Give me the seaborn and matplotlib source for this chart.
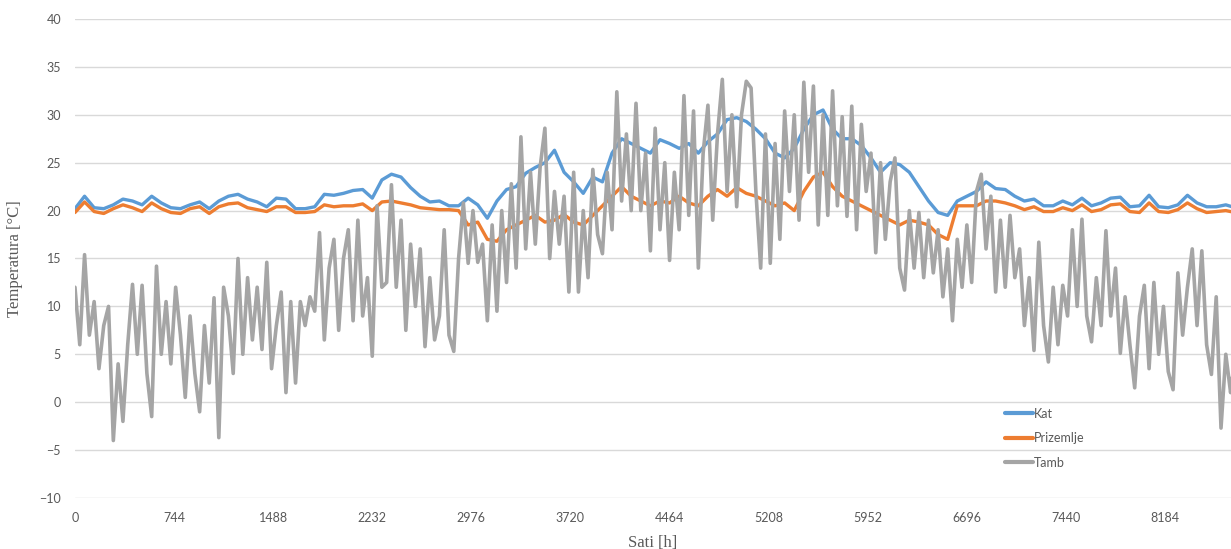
import numpy as np
import pandas as pd
import matplotlib
matplotlib.use("Agg")
import matplotlib.pyplot as plt
import seaborn as sns

# ─── Data ────────────────────────────────────────────────────────────────────

# outdoor temperature, one value every 36 h (alternating daily highs / lows)
TAMB_STEP = 36
tamb = [
    12.0, 6.0, 15.4, 7.0, 10.5, 3.5, 8.0, 10.0, -4.0, 4.0, -2.0, 6.0,
    12.3, 5.0, 12.2, 3.0, -1.5, 14.2, 5.0, 10.5, 4.0, 12.0, 7.0, 0.5,
    9.0, 3.0, -1.0, 8.0, 2.0, 10.9, -3.7, 12.0, 9.0, 3.0, 15.0, 5.0,
    13.0, 6.5, 12.0, 5.5, 14.6, 3.5, 8.0, 11.5, 1.0, 10.5, 2.0, 10.5,
    8.0, 11.0, 9.5, 17.7, 6.5, 14.0, 17.0, 7.5, 15.0, 18.0, 8.5, 19.0,
    9.0, 13.0, 4.8, 20.5, 12.0, 12.5, 22.7, 12.0, 19.0, 7.5, 16.5, 10.0,
    16.0, 5.8, 13.0, 6.5, 9.0, 18.0, 7.0, 5.3, 15.0, 20.8, 14.5, 20.0,
    14.6, 16.5, 8.5, 18.5, 9.5, 20.0, 12.5, 22.8, 14.0, 27.7, 16.0, 24.0,
    16.5, 24.5, 28.6, 15.0, 22.0, 16.5, 21.5, 11.5, 24.0, 11.5, 20.0, 13.0,
    24.3, 17.5, 15.5, 24.0, 18.0, 32.4, 21.0, 28.0, 20.0, 31.2, 20.0, 26.0,
    15.8, 28.6, 18.0, 25.0, 14.8, 24.0, 18.0, 32.0, 19.5, 30.4, 14.0, 26.0,
    31.0, 19.0, 28.0, 33.7, 22.0, 30.0, 20.4, 30.0, 33.5, 32.8, 22.0, 14.0,
    28.0, 14.5, 27.0, 17.0, 30.4, 22.0, 30.0, 19.0, 33.4, 24.0, 33.0, 18.5,
    30.0, 19.5, 32.5, 20.5, 29.8, 19.4, 30.9, 18.0, 29.0, 22.0, 26.0, 15.6,
    25.0, 17.0, 23.0, 25.5, 14.0, 11.7, 20.0, 14.0, 19.8, 13.0, 19.0, 13.5,
    18.0, 11.0, 16.0, 8.5, 17.0, 12.0, 18.5, 12.5, 22.0, 23.8, 16.0, 21.5,
    11.5, 19.0, 12.0, 19.5, 13.0, 16.0, 8.0, 13.0, 5.4, 16.7, 8.0, 4.2,
    12.0, 6.0, 12.2, 9.0, 18.0, 10.0, 19.1, 9.0, 6.3, 13.0, 8.0, 17.9,
    9.0, 14.0, 5.1, 11.0, 6.0, 1.5, 9.0, 12.2, 3.5, 12.5, 5.0, 10.0,
    3.2, 1.3, 13.5, 7.0, 12.0, 16.0, 8.0, 15.8, 6.0, 2.9, 11.0, -2.7,
    5.0, 1.0, 6.3, 4.0,
]

# indoor temperatures, one value every 72 h
ROOM_STEP = 72
kat = [
    20.2, 21.5, 20.3, 20.2, 20.6, 21.2, 21.0, 20.6, 21.5, 20.8, 20.3, 20.2,
    20.6, 20.9, 20.2, 21.0, 21.5, 21.7, 21.2, 20.9, 20.4, 21.3, 21.2, 20.2,
    20.2, 20.4, 21.7, 21.6, 21.8, 22.1, 22.2, 21.3, 23.2, 23.8, 23.5, 22.4,
    21.5, 20.9, 21.0, 20.5, 20.5, 21.3, 20.6, 19.2, 21.0, 22.2, 22.5, 23.9,
    24.5, 25.0, 26.3, 24.0, 23.0, 21.8, 23.5, 23.0, 26.0, 27.5, 27.0, 26.5,
    26.0, 27.4, 27.0, 26.5, 27.0, 26.0, 27.2, 28.0, 29.5, 29.7, 29.3, 28.5,
    27.5, 26.0, 25.5, 26.5, 28.5, 30.0, 30.5, 28.5, 27.5, 27.5, 26.8, 25.5,
    24.0, 25.0, 24.8, 24.0, 22.5, 21.0, 19.8, 19.5, 21.0, 21.5, 22.0, 23.0,
    22.3, 22.2, 21.5, 21.0, 21.2, 20.5, 20.5, 21.0, 20.6, 21.3, 20.5, 20.8,
    21.3, 21.4, 20.4, 20.5, 21.6, 20.4, 20.3, 20.6, 21.6, 20.8, 20.4, 20.4,
    20.6, 20.3,
]
prizemlje = [
    19.8, 20.9, 19.9, 19.7, 20.2, 20.6, 20.3, 19.9, 20.8, 20.2, 19.8, 19.7,
    20.2, 20.4, 19.7, 20.4, 20.7, 20.8, 20.3, 20.1, 19.9, 20.4, 20.4, 19.8,
    19.8, 19.9, 20.6, 20.4, 20.5, 20.5, 20.7, 20.0, 20.9, 21.0, 20.8, 20.6,
    20.3, 20.2, 20.1, 20.1, 20.0, 18.5, 18.8, 17.0, 16.8, 18.0, 18.5, 19.0,
    19.5, 18.8, 19.0, 19.6, 18.8, 18.5, 19.5, 20.5, 21.5, 22.5, 21.5, 21.0,
    20.5, 21.0, 20.8, 21.5, 20.8, 20.5, 21.5, 22.2, 21.5, 22.4, 21.8, 21.5,
    21.0, 20.5, 20.8, 20.0, 22.0, 23.5, 24.0, 22.5, 21.5, 21.0, 20.5, 20.0,
    19.5, 19.0, 18.5, 19.0, 18.8, 18.5, 17.5, 17.0, 20.5, 20.5, 20.5, 21.0,
    21.0, 20.8, 20.5, 20.1, 20.4, 19.9, 19.9, 20.3, 20.0, 20.6, 19.9, 20.1,
    20.6, 20.7, 19.9, 19.8, 20.8, 19.9, 19.8, 20.1, 20.8, 20.2, 19.8, 19.9,
    20.0, 19.8,
]

x_ticks = [0, 744, 1488, 2232, 2976, 3720, 4464, 5208, 5952, 6696, 7440, 8184]
y_ticks = [-10, -5, 0, 5, 10, 15, 20, 25, 30, 35, 40]

colors = {"Kat": "#5B9BD5", "Prizemlje": "#ED7D31", "Tamb": "#A5A5A5"}
widths = {"Kat": 2.4, "Prizemlje": 2.4, "Tamb": 2.6}

# ─── Tables ──────────────────────────────────────────────────────────────────

df_kat = pd.DataFrame({"Sati": np.arange(len(kat)) * ROOM_STEP, "T": kat})
df_prz = pd.DataFrame({"Sati": np.arange(len(prizemlje)) * ROOM_STEP, "T": prizemlje})
df_amb = pd.DataFrame({"Sati": np.arange(len(tamb)) * TAMB_STEP, "T": tamb})

# ─── Plot ────────────────────────────────────────────────────────────────────

sns.set_style("white")
plt.rcParams["font.family"] = ["Lato", "DejaVu Sans"]

fig = plt.figure(figsize=(12.31, 5.49), dpi=100)
ax = fig.add_axes([0.0609, 0.0929, 0.9391, 0.8725])

for df, name in [(df_kat, "Kat"), (df_prz, "Prizemlje"), (df_amb, "Tamb")]:
    sns.lineplot(data=df, x="Sati", y="T", ax=ax, color=colors[name],
                 lw=widths[name], label=name, estimator=None, sort=False)

ax.set_xlim(0, 8679)
ax.set_ylim(-10, 40)
ax.set_xticks(x_ticks)
ax.set_yticks(y_ticks)
ax.tick_params(axis="both", length=0, labelsize=9, colors="#595959", pad=10)
ax.grid(axis="y", color="#D9D9D9", lw=1)
for s in ax.spines.values():
    s.set_visible(False)

ax.set_xlabel("Sati [h]", fontsize=12, color="#595959",
              family=["Liberation Serif", "DejaVu Serif"], labelpad=8)
ax.set_ylabel("Temperatura [°C]", fontsize=12, color="#595959",
              family=["Liberation Serif", "DejaVu Serif"], labelpad=12)

leg = ax.legend(loc="upper left", bbox_to_anchor=(0.795, 0.212), frameon=False,
                fontsize=9, handlelength=2.2, handletextpad=0.1, labelspacing=1.0,
                labelcolor="#595959")
for line in leg.get_lines():
    line.set_linewidth(3)

fig.savefig("out.png", dpi=100)
